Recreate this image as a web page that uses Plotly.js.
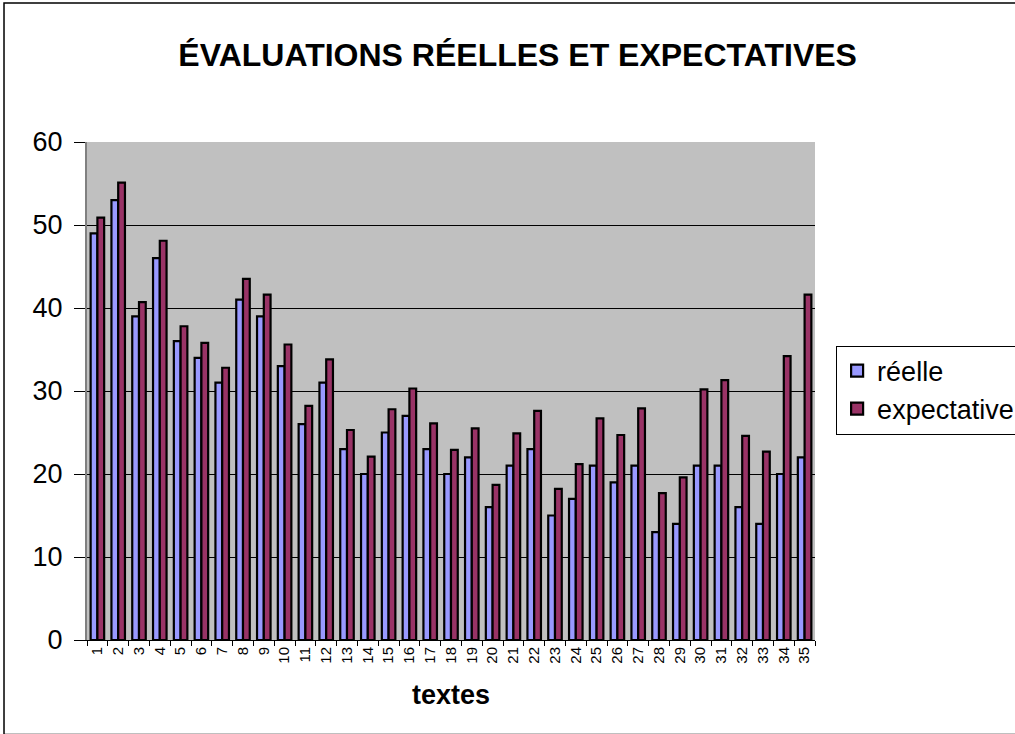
<!DOCTYPE html>
<html><head><meta charset="utf-8">
<script src="https://cdn.plot.ly/plotly-3.0.1.min.js"></script>
<style>html,body{margin:0;padding:0;background:#fff;}#chart{width:1015px;height:734px;}</style>
</head><body><div id="chart"></div>
<script>
const categories = ["1","2","3","4","5","6","7","8","9","10","11","12","13","14","15","16","17","18","19","20","21","22","23","24","25","26","27","28","29","30","31","32","33","34","35"];
const reelle = [49,53,39,46,36,34,31,41,39,33,26,31,23,20,25,27,23,20,22,16,21,23,15,17,21,19,21,13,14,21,21,16,14,20,22];
const expectative = [50.9,55.1,40.7,48.1,37.8,35.8,32.8,43.5,41.6,35.6,28.2,33.8,25.3,22.1,27.8,30.3,26.1,22.9,25.5,18.7,24.9,27.6,18.2,21.2,26.7,24.7,27.9,17.7,19.6,30.2,31.3,24.6,22.7,34.2,41.6];
const yTicks = [0,10,20,30,40,50,60];

const font = "Arial, 'Liberation Sans', sans-serif";
const data = [
  {type:'bar', name:'réelle', x:categories, y:reelle, marker:{color:'#9999FF', line:{color:'#000', width:2.2}}},
  {type:'bar', name:'expectative', x:categories, y:expectative, marker:{color:'#993366', line:{color:'#000', width:2.2}}}
];
const layout = {
  width:1015, height:734,
  margin:{l:87, r:200, t:142, b:94, autoexpand:false},
  paper_bgcolor:'#fff', plot_bgcolor:'#C0C0C0',
  font:{family:font, color:'#000'},
  barmode:'group', bargap:0.35, bargroupgap:0,
  title:{text:'<b>ÉVALUATIONS RÉELLES ET EXPECTATIVES</b>', font:{family:font, size:32, color:'#000'}, x:0.51, xanchor:'center', y:0.925, yanchor:'middle'},
  xaxis:{type:'category', tickangle:-90, tickfont:{size:15}, ticks:'outside', ticklen:5, tickcolor:'#000', tickson:'boundaries',
    showline:true, linecolor:'#000', linewidth:1, showgrid:false, mirror:false, automargin:false,
    title:{text:'<b>textes</b>', font:{size:27}, standoff:22}},
  yaxis:{range:[0,60], tickvals:yTicks, ticktext:yTicks.map(String), tickfont:{size:27}, ticks:'outside', ticklen:11, tickcolor:'#000', ticklabelstandoff:6,
    showline:true, linecolor:'#808080', linewidth:2, showgrid:true, gridcolor:'#000', gridwidth:1, zeroline:false, automargin:false},
  legend:{x:1.029, xanchor:'left', y:0.502, yanchor:'middle', bgcolor:'#fff', bordercolor:'#000', borderwidth:1, font:{size:27}, tracegroupgap:0, itemwidth:30},
  showlegend:true,
  shapes:[
    {type:'rect', xref:'paper', yref:'paper', x0:-0.114, x1:1.28, y0:-0.19, y1:1.279, line:{color:'#000', width:1.5}, fillcolor:'rgba(0,0,0,0)'}
  ]
};
Plotly.newPlot('chart', data, layout, {displayModeBar:false, staticPlot:true});
</script></body></html>
